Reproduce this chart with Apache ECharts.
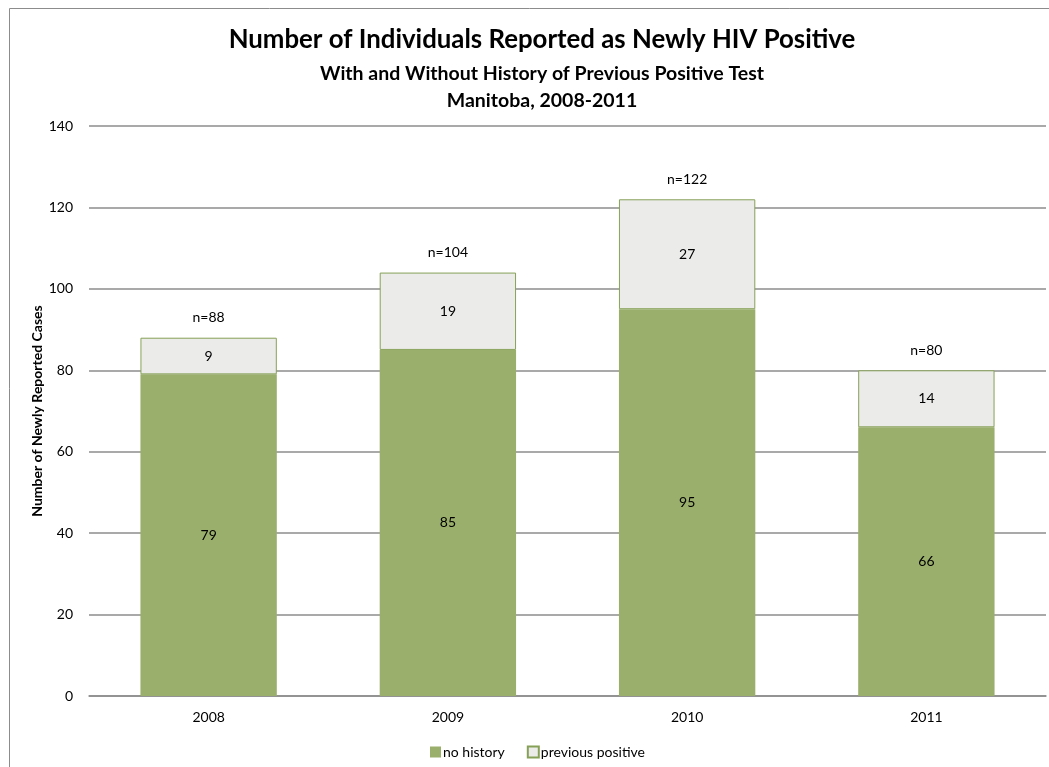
<!DOCTYPE html>
<html>
<head>
<meta charset="utf-8">
<script src="https://cdn.jsdelivr.net/npm/echarts@6/dist/echarts.min.js"></script>
<style>
  html, body { margin: 0; padding: 0; background: #ffffff; }
  #chart { width: 1049px; height: 767px; }
</style>
</head>
<body>
<div id="chart"></div>
<script>
// Newly HIV positive individuals in Manitoba, by previous-test history
const years = ['2008', '2009', '2010', '2011'];
const noHistory = [79, 85, 95, 66];
const previousPositive = [9, 19, 27, 14];
const totals = [88, 104, 122, 80];
const yTicks = { min: 0, max: 140, interval: 20 };

const FONT = 'Lato, "Open Sans", sans-serif';
const GREEN = '#9baf6c';
const PALE = '#ebebea';
const EDGE = '#86a157';

const chart = echarts.init(document.getElementById('chart'));
chart.setOption({
  backgroundColor: '#ffffff',
  animation: false,
  textStyle: { fontFamily: FONT },
  title: [
    {
      text: 'Number of Individuals Reported as Newly HIV Positive',
      left: 537, textAlign: 'center', top: 22,
      textStyle: { fontFamily: FONT, fontSize: 25.8, fontWeight: 'bold', color: '#000' }
    },
    {
      text: 'With and Without History of Previous Positive Test\nManitoba, 2008-2011',
      left: 537, textAlign: 'center', top: 55,
      textStyle: { fontFamily: FONT, fontSize: 19.5, fontWeight: 'bold', color: '#000', lineHeight: 27 }
    }
  ],
  graphic: [{
    type: 'rect', silent: true, z: -10,
    shape: { x: 9.5, y: 8.5, width: 1100, height: 800 },
    style: { fill: 'none', stroke: '#8c8c8c', lineWidth: 1 }
  }],
  legend: {
    data: ['no history', 'previous positive'],
    bottom: 3, left: 425,
    itemWidth: 11, itemHeight: 11, itemGap: 22,
    icon: 'rect',
    textStyle: { fontFamily: FONT, fontSize: 14, color: '#000', padding: [0, 0, 0, -3] }
  },
  grid: { left: 89, right: 3, top: 126, bottom: 71, containLabel: false },
  xAxis: {
    type: 'category', data: years,
    axisLine: { show: true, lineStyle: { color: '#8c8c8c', width: 1.5 } },
    axisTick: { show: false },
    axisLabel: { fontFamily: FONT, fontSize: 14, color: '#000', margin: 14 }
  },
  yAxis: {
    type: 'value', min: yTicks.min, max: yTicks.max, interval: yTicks.interval,
    name: 'Number of Newly Reported Cases',
    nameLocation: 'middle', nameGap: 45, nameRotate: 90, nameMoveOverlap: false,
    nameTextStyle: { fontFamily: FONT, fontSize: 14, fontWeight: 'bold', color: '#000' },
    axisLine: { show: false },
    axisTick: { show: false },
    axisLabel: { fontFamily: FONT, fontSize: 14, color: '#000', margin: 16 },
    splitLine: { lineStyle: { color: '#8c8c8c', width: 1.5 } }
  },
  series: [
    {
      name: 'no history', type: 'bar', stack: 'cases', barWidth: '57%',
      data: noHistory,
      itemStyle: { color: GREEN },
      label: { show: true, position: 'inside', color: '#000', fontFamily: FONT, fontSize: 14 }
    },
    {
      name: 'previous positive', type: 'bar', stack: 'cases',
      data: previousPositive,
      itemStyle: { color: PALE, borderColor: EDGE, borderWidth: 1 },
      label: { show: true, position: 'inside', color: '#000', fontFamily: FONT, fontSize: 14 }
    },
    {
      name: 'total', type: 'bar', barWidth: '57%', barGap: '-100%',
      data: totals, silent: true, z: 0,
      itemStyle: { color: 'rgba(0,0,0,0)' },
      label: {
        show: true, position: 'top', distance: 13,
        formatter: p => 'n=' + p.value,
        color: '#000', fontFamily: FONT, fontSize: 14
      }
    }
  ]
});
</script>
</body>
</html>
